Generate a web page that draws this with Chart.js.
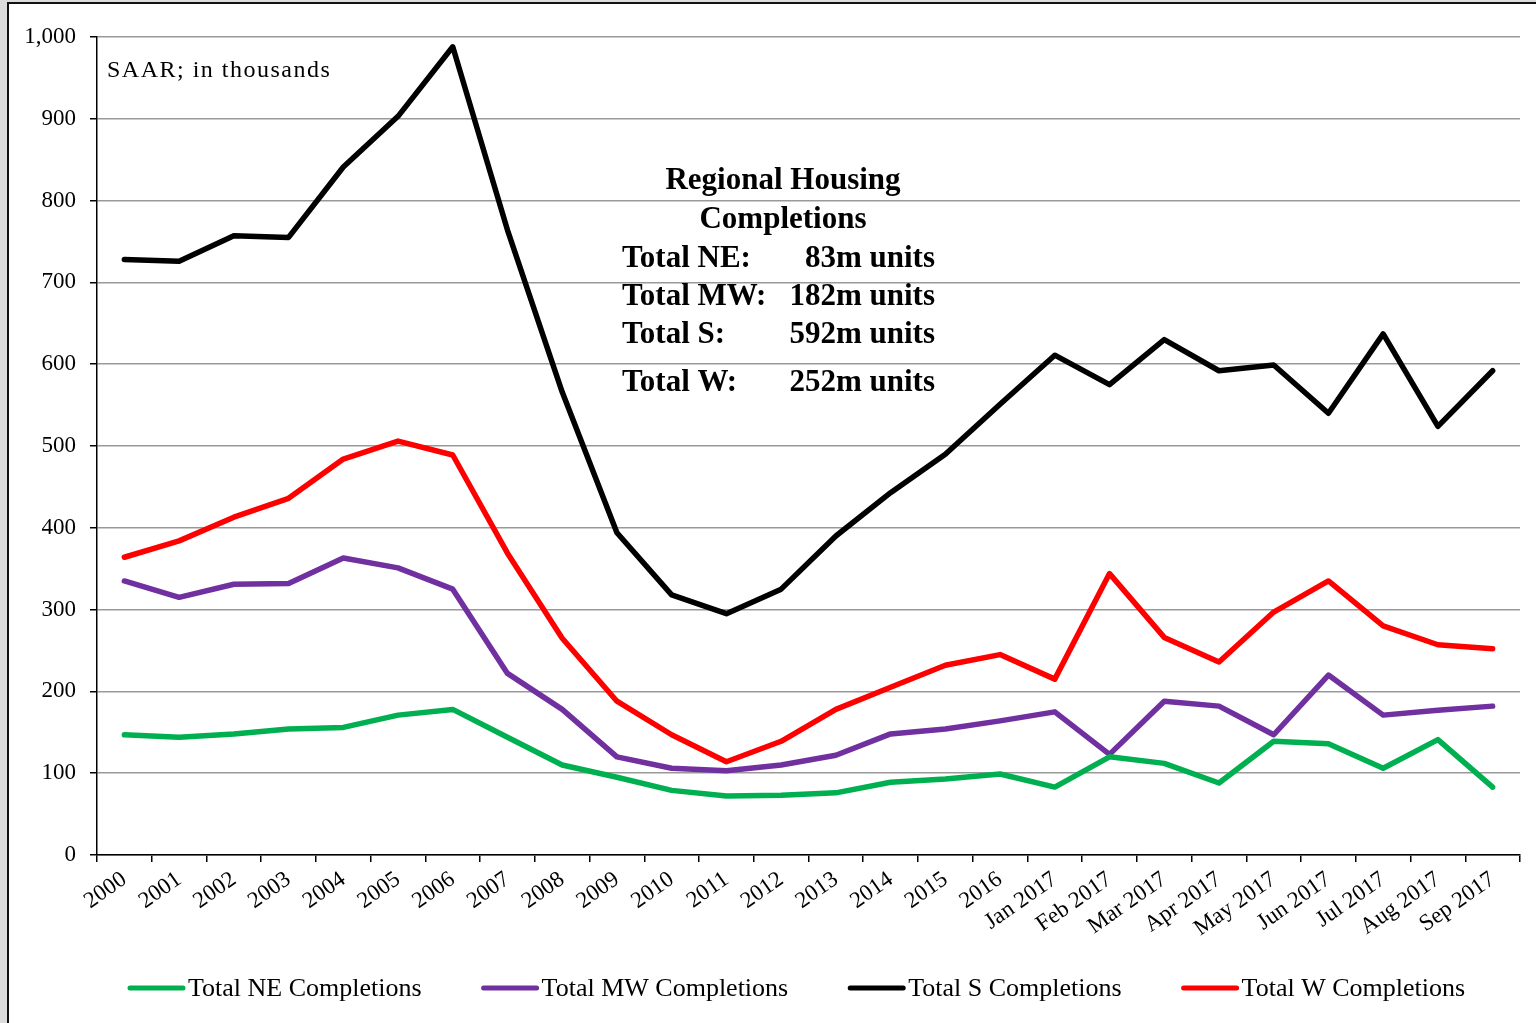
<!DOCTYPE html>
<html>
<head>
<meta charset="utf-8">
<script src="https://cdn.jsdelivr.net/npm/chart.js@4.4.1/dist/chart.umd.min.js"></script>
<style>
  html, body { margin: 0; padding: 0; background: #dcdcdc; overflow: hidden; }
  #frame {
    position: absolute; left: 7px; top: 2px; width: 1600px; height: 1100px;
    background: #fff; border: 2px solid #111;
  }
  #wrap { position: absolute; left: 0; top: 0; width: 1536px; height: 1023px; }
</style>
</head>
<body>
<div id="frame"></div>
<div id="wrap"><canvas id="housingChart"></canvas></div>
<script>
// Categories
const periods = ['2000', '2001', '2002', '2003', '2004', '2005', '2006', '2007', '2008',
  '2009', '2010', '2011', '2012', '2013', '2014', '2015', '2016',
  'Jan 2017', 'Feb 2017', 'Mar 2017', 'Apr 2017', 'May 2017', 'Jun 2017',
  'Jul 2017', 'Aug 2017', 'Sep 2017'];

// Series values (SAAR, thousands)
const neCompletions = [147, 144, 148, 154, 156, 171, 178, 144, 110, 95, 79, 72, 73, 76, 89, 93, 99,
  83, 120, 112, 88, 139, 136, 106, 141, 83];
const mwCompletions = [335, 315, 331, 332, 363, 351, 325, 222, 178, 120, 106, 103, 110, 122, 148, 154, 164,
  175, 123, 188, 182, 147, 220, 171, 177, 182];
const sCompletions = [728, 726, 757, 755, 841, 903, 988, 764, 566, 394, 318, 295, 325, 390, 443, 490, 551,
  611, 575, 630, 592, 599, 540, 637, 524, 592];
const wCompletions = [364, 384, 413, 436, 484, 506, 489, 369, 265, 188, 147, 114, 139, 178, 205, 232, 245,
  215, 344, 266, 236, 297, 335, 280, 257, 252];

// Annotation text
const noteText = 'SAAR; in thousands';
const boxTitle = ['Regional Housing', 'Completions'];
const boxLabels = ['Total NE:', 'Total MW:', 'Total S:', 'Total W:'];
const boxValues = ['83m units', '182m units', '592m units', '252m units'];

const serif = '"Liberation Serif", "Times New Roman", serif';

const annotations = {
  id: 'annotations',
  afterDraw(chart) {
    const ctx = chart.ctx;
    const area = chart.chartArea;
    ctx.save();
    ctx.fillStyle = '#000';
    ctx.textBaseline = 'alphabetic';

    // note at upper-left
    ctx.font = '24px ' + serif;
    ctx.letterSpacing = '1.5px';
    ctx.textAlign = 'left';
    ctx.fillText(noteText, area.left + 10, 77);
    ctx.letterSpacing = '0px';

    // totals box
    ctx.font = 'bold 31px ' + serif;
    ctx.textAlign = 'center';
    ctx.fillText(boxTitle[0], 783, 189);
    ctx.fillText(boxTitle[1], 783, 228);
    const baselines = [267, 305, 343, 391];
    boxLabels.forEach((lbl, i) => {
      ctx.textAlign = 'left';
      ctx.fillText(lbl, 622, baselines[i]);
      ctx.textAlign = 'right';
      ctx.fillText(boxValues[i], 935, baselines[i]);
    });

    // legend
    ctx.font = '26px ' + serif;
    ctx.textAlign = 'left';
    ctx.textBaseline = 'middle';
    let x = 128;
    const y = 988;
    chart.data.datasets.forEach(ds => {
      ctx.strokeStyle = ds.borderColor;
      ctx.lineWidth = 5;
      ctx.lineCap = 'round';
      ctx.beginPath();
      ctx.moveTo(x + 2, y);
      ctx.lineTo(x + 55, y);
      ctx.stroke();
      ctx.fillText(ds.label, x + 60, y + 1);
      x += 60 + ctx.measureText(ds.label).width + 60;
    });
    ctx.restore();
  }
};

const ctx = document.getElementById('housingChart').getContext('2d');
new Chart(ctx, {
  type: 'line',
  data: {
    labels: periods,
    datasets: [
      { label: 'Total NE Completions', data: neCompletions, borderColor: '#00B050' },
      { label: 'Total MW Completions', data: mwCompletions, borderColor: '#7030A0' },
      { label: 'Total S Completions', data: sCompletions, borderColor: '#000000' },
      { label: 'Total W Completions', data: wCompletions, borderColor: '#FF0000' }
    ].map(d => Object.assign(d, {
      borderWidth: 5.5,
      pointRadius: 0,
      tension: 0,
      fill: false,
      borderJoinStyle: 'round',
      borderCapStyle: 'round'
    }))
  },
  options: {
    responsive: true,
    maintainAspectRatio: false,
    animation: false,
    layout: { padding: { left: 0, right: 16, top: 37, bottom: 78 } },
    plugins: {
      legend: { display: false },
      tooltip: { enabled: false }
    },
    scales: {
      x: {
        offset: true,
        afterFit: s => { s.height = 90; },
        grid: { drawOnChartArea: false, offset: true, tickLength: 7, tickColor: '#000', lineWidth: 1.5 },
        border: { color: '#000', width: 1.5 },
        ticks: {
          color: '#000',
          font: { family: serif, size: 23 },
          minRotation: 35, maxRotation: 35,
          padding: 4,
          autoSkip: false
        }
      },
      y: {
        min: 0, max: 1000,
        afterFit: s => { s.width = 97; },
        grid: { color: '#999', lineWidth: 1.5, tickLength: 7, tickColor: '#000' },
        border: { color: '#000', width: 1.5 },
        ticks: {
          stepSize: 100,
          color: '#000',
          font: { family: serif, size: 23 },
          padding: 14,
          callback: v => v.toLocaleString('en-US')
        }
      }
    }
  },
  plugins: [annotations]
});
</script>
</body>
</html>
